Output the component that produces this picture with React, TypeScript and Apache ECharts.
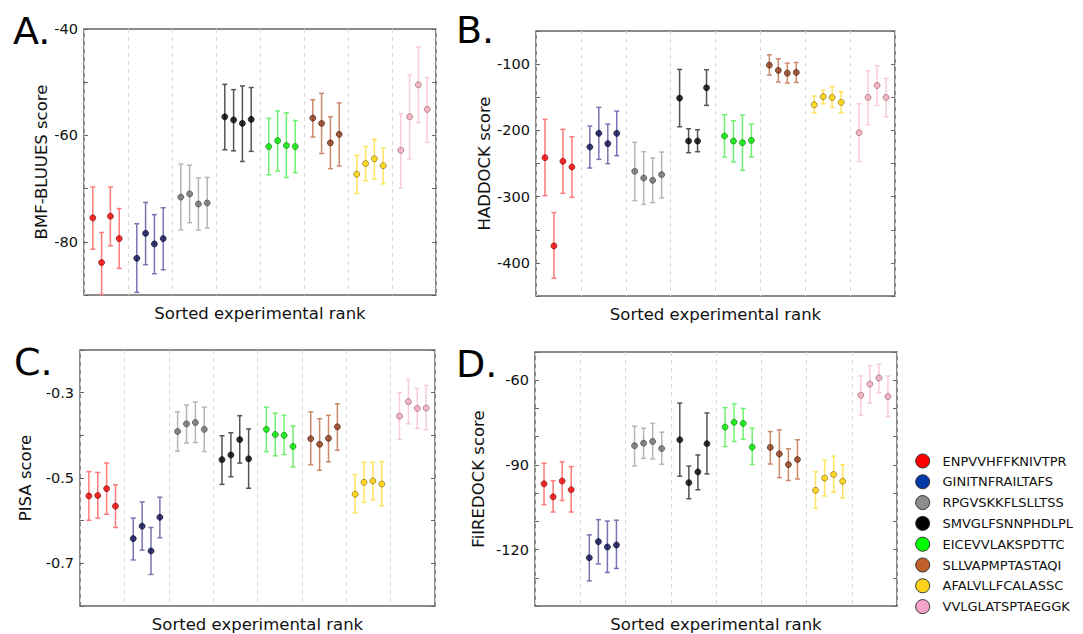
import React, { useEffect, useRef } from "react";
import * as echarts from "echarts";

const peptides = [
  "ENPVVHFFKNIVTPR",
  "GINITNFRAILTAFS",
  "RPGVSKKFLSLLTSS",
  "SMVGLFSNNPHDLPL",
  "EICEVVLAKSPDTTC",
  "SLLVAPMPTASTAQI",
  "AFALVLLFCALASSC",
  "VVLGLATSPTAEGGK",
];

const pointColors = ["#ee0000", "#0c0c50", "#6e6e6e", "#000000", "#00e600", "#8a3a18", "#ffd200", "#f2a8b8"];
const edgeColors = ["#7a0000", "#000022", "#3a3a3a", "#000000", "#007a00", "#4a1a08", "#7a6000", "#8a5a68"];
const errColors = ["#ff7a7a", "#7676b2", "#b6b6b6", "#555555", "#70f070", "#cc8a6c", "#ffe460", "#f9cdd6"];
const legendColors = ["#ff0000", "#0039a6", "#8c8c8c", "#000000", "#00ff00", "#c0602c", "#ffd21e", "#f5a3c9"];

// Panel A: BMF-BLUUES
const bmfMean = [
  [-75.5, -83.9, -75.2, -79.4],
  [-83.1, -78.4, -80.4, -79.4],
  [-71.6, -71.0, -72.9, -72.7],
  [-56.5, -57.1, -57.75, -57.0],
  [-62.1, -61.0, -61.9, -62.1],
  [-56.75, -57.75, -61.4, -59.8],
  [-67.3, -65.3, -64.4, -65.7],
  [-62.8, -56.5, -50.5, -55.1],
];
const bmfHigh = [
  [-69.7, -78.25, -69.7, -73.75],
  [-76.6, -72.6, -74.9, -73.6],
  [-65.4, -65.6, -68.0, -67.9],
  [-50.4, -51.4, -50.7, -51.0],
  [-56.8, -55.4, -55.75, -57.2],
  [-53.3, -52.1, -56.5, -53.9],
  [-63.75, -62.1, -60.75, -62.4],
  [-55.9, -48.6, -43.4, -49.1],
];
const bmfLow = [
  [-81.4, -89.9, -80.75, -85.0],
  [-89.5, -84.3, -86.0, -85.25],
  [-77.75, -76.4, -77.8, -77.4],
  [-62.7, -62.9, -64.9, -63.0],
  [-67.4, -66.7, -67.9, -67.0],
  [-60.3, -63.4, -66.25, -65.75],
  [-70.9, -68.5, -68.2, -69.1],
  [-69.9, -64.4, -57.6, -61.25],
];

// Panel B: HADDOCK
const hadMean = [
  [-241.2, -374.4, -246.7, -255.3],
  [-225.1, -204.5, -220.1, -204.5],
  [-261.8, -271.9, -275.4, -266.8],
  [-151.3, -216.1, -216.1, -135.7],
  [-208.5, -216.1, -218.6, -215.1],
  [-101.5, -109.5, -113.6, -112.6],
  [-161.3, -149.2, -150.3, -157.8],
  [-203.5, -150.3, -132.2, -150.3],
];
const hadHigh = [
  [-183.4, -324.1, -198.5, -209.5],
  [-193.5, -165.3, -190.5, -170.9],
  [-218.1, -232.2, -241.7, -232.7],
  [-108.0, -197.5, -199.0, -108.5],
  [-176.4, -185.4, -176.9, -190.5],
  [-85.9, -92.0, -98.5, -97.5],
  [-148.2, -139.7, -134.2, -141.7],
  [-159.8, -110.0, -102.5, -121.6],
];
const hadLow = [
  [-298.5, -423.1, -295.0, -301.0],
  [-256.8, -243.7, -250.3, -238.2],
  [-306.0, -311.6, -309.0, -302.0],
  [-194.5, -233.7, -232.2, -162.3],
  [-240.2, -247.7, -260.3, -240.2],
  [-116.6, -127.1, -128.6, -127.6],
  [-173.4, -159.8, -165.3, -173.4],
  [-247.2, -191.5, -162.3, -179.4],
];

// Panel C: PISA
const pisaMean = [
  [-0.542, -0.541, -0.525, -0.566],
  [-0.642, -0.613, -0.671, -0.592],
  [-0.391, -0.373, -0.37, -0.386],
  [-0.457, -0.446, -0.41, -0.455],
  [-0.386, -0.398, -0.4, -0.426],
  [-0.408, -0.421, -0.407, -0.38],
  [-0.538, -0.51, -0.507, -0.514],
  [-0.355, -0.321, -0.337, -0.336],
];
const pisaHigh = [
  [-0.485, -0.487, -0.465, -0.516],
  [-0.594, -0.556, -0.616, -0.545],
  [-0.345, -0.329, -0.322, -0.334],
  [-0.401, -0.394, -0.354, -0.385],
  [-0.334, -0.348, -0.353, -0.378],
  [-0.345, -0.361, -0.353, -0.326],
  [-0.492, -0.463, -0.463, -0.462],
  [-0.3, -0.269, -0.29, -0.283],
];
const pisaLow = [
  [-0.599, -0.594, -0.585, -0.616],
  [-0.692, -0.669, -0.726, -0.64],
  [-0.437, -0.418, -0.417, -0.438],
  [-0.515, -0.497, -0.465, -0.524],
  [-0.438, -0.448, -0.445, -0.474],
  [-0.469, -0.482, -0.462, -0.435],
  [-0.582, -0.557, -0.551, -0.565],
  [-0.41, -0.373, -0.384, -0.387],
];

// Panel D: FiREDOCK
const fireMean = [
  [-96.7, -101.3, -95.7, -98.8],
  [-122.9, -117.2, -119.1, -118.4],
  [-83.2, -82.3, -81.7, -84.2],
  [-81.1, -96.3, -92.5, -82.5],
  [-76.6, -74.9, -75.3, -83.7],
  [-83.8, -86.1, -89.9, -88.1],
  [-99.0, -94.7, -93.4, -95.8],
  [-65.3, -61.4, -59.2, -65.8],
];
const fireHigh = [
  [-89.4, -95.6, -88.9, -90.6],
  [-114.8, -109.4, -109.9, -109.6],
  [-76.3, -77.0, -75.3, -78.4],
  [-68.1, -90.4, -86.5, -71.6],
  [-69.7, -68.4, -70.0, -77.0],
  [-78.2, -77.6, -84.3, -81.1],
  [-92.4, -88.4, -86.9, -89.9],
  [-58.5, -54.9, -54.3, -58.5],
];
const fireLow = [
  [-104.1, -106.7, -102.6, -106.7],
  [-131.1, -125.1, -128.1, -126.7],
  [-90.4, -87.7, -87.9, -89.8],
  [-94.0, -102.0, -98.8, -93.2],
  [-83.5, -81.7, -80.9, -89.9],
  [-89.7, -94.5, -95.5, -95.0],
  [-105.4, -101.0, -99.7, -101.7],
  [-72.4, -68.1, -64.4, -72.9],
];

const xTitle = "Sorted experimental rank";
const yTitles = ["BMF-BLUUES score", "HADDOCK score", "PISA score", "FiIREDOCK score"];
const panelLetters = ["A.", "B.", "C.", "D."];
const yMins = [-90, -450, -0.8, -140];
const yMaxs = [-40, -50, -0.2, -50];
const yIntervals = [10, 50, 0.1, 10];
const yLabelSteps = [20, 100, 0.2, 30];

const FONT = "DejaVu Sans";

export default function App() {
  const ref = useRef<HTMLDivElement>(null);

  useEffect(() => {
    if (!ref.current) return;
    const chart = echarts.init(ref.current, undefined, { renderer: "svg" });

    const grids = [
      { left: 84, top: 29, width: 352, height: 266 },
      { left: 536, top: 31, width: 359, height: 265 },
      { left: 80, top: 350, width: 355, height: 259 },
      { left: 535, top: 352, width: 362, height: 255 },
    ];
    const yNameGaps = [34, 41, 46, 48];
    const letterPos = [
      [13, 31],
      [456, 30],
      [14, 362],
      [456, 364],
    ];
    const panels = [
      [bmfMean, bmfLow, bmfHigh],
      [hadMean, hadLow, hadHigh],
      [pisaMean, pisaLow, pisaHigh],
      [fireMean, fireLow, fireHigh],
    ];

    const labelFormatter = (p: number) => (v: number) => {
      if (p === 2) {
        const k = Math.round(v * 10);
        return Math.abs(k) % 2 === 1 ? (k / 10).toFixed(1) : "";
      }
      const step = yLabelSteps[p];
      const r = Math.round(v / step) * step;
      return Math.abs(r - v) < 1e-6 ? String(Math.round(v)) : "";
    };

    const xAxes: any[] = [];
    const yAxes: any[] = [];
    const series: any[] = [];

    panels.forEach((pd, p) => {
      xAxes.push({
        type: "value",
        gridIndex: p,
        min: 0,
        max: 40,
        interval: 5,
        axisLine: { show: false },
        axisTick: { show: false },
        axisLabel: { show: false },
        splitLine: { show: true, lineStyle: { color: "#d9d9d9", type: [4, 4], width: 1 } },
        name: xTitle,
        nameLocation: "middle",
        nameGap: 10,
        nameTextStyle: { fontFamily: FONT, fontSize: 16.5, color: "#111", verticalAlign: "top" },
      });
      const yBase = {
        type: "value",
        gridIndex: p,
        min: yMins[p],
        max: yMaxs[p],
        interval: yIntervals[p],
        splitLine: { show: false },
        axisLine: { show: false },
      };
      yAxes.push({
        ...yBase,
        position: "left",
        axisTick: { show: true, inside: true, length: 4, lineStyle: { color: "#666", width: 1 } },
        axisLabel: {
          show: true,
          margin: 6,
          fontFamily: FONT,
          fontSize: 14.5,
          color: "#111",
          showMinLabel: true,
          showMaxLabel: true,
          formatter: labelFormatter(p),
        },
        name: yTitles[p],
        nameLocation: "middle",
        nameGap: yNameGaps[p],
        nameTextStyle: { fontFamily: FONT, fontSize: 16.5, color: "#111" },
      });
      yAxes.push({
        ...yBase,
        position: "right",
        axisTick: { show: true, inside: true, length: 4, lineStyle: { color: "#666", width: 1 } },
        axisLabel: { show: false },
      });

      const [mean, low, high] = pd as number[][][];
      const errData: any[] = [];
      const ptData: any[] = [];
      mean.forEach((grp, g) => {
        grp.forEach((m, i) => {
          const x = g * 5 + i + 1;
          errData.push([x, low[g][i], high[g][i], g]);
          ptData.push({
            value: [x, m],
            itemStyle: { color: pointColors[g], borderColor: edgeColors[g], borderWidth: 0.8 },
          });
        });
      });

      series.push({
        type: "custom",
        xAxisIndex: p,
        yAxisIndex: 2 * p,
        clip: true,
        z: 2,
        encode: { x: 0, y: [1, 2] },
        data: errData,
        renderItem: (params: any, api: any) => {
          const x = api.value(0);
          const lo = api.value(1);
          const hi = api.value(2);
          const g = api.value(3);
          const a = api.coord([x, hi]);
          const b = api.coord([x, lo]);
          const w = 2.5;
          const style = { stroke: errColors[g], lineWidth: 1.5 };
          return {
            type: "group",
            children: [
              { type: "line", shape: { x1: a[0], y1: a[1], x2: b[0], y2: b[1] }, style },
              { type: "line", shape: { x1: a[0] - w, y1: a[1], x2: a[0] + w, y2: a[1] }, style },
              { type: "line", shape: { x1: b[0] - w, y1: b[1], x2: b[0] + w, y2: b[1] }, style },
            ],
          };
        },
      });
      series.push({
        type: "scatter",
        xAxisIndex: p,
        yAxisIndex: 2 * p,
        symbol: "circle",
        symbolSize: 6,
        z: 3,
        data: ptData,
      });
    });

    const graphics: any[] = [];
    panelLetters.forEach((t, p) => {
      graphics.push({
        type: "text",
        left: letterPos[p][0],
        top: letterPos[p][1] - 19,
        style: { text: t, fontFamily: FONT, fontSize: 38, fill: "#000" },
      });
    });
    peptides.forEach((name, i) => {
      const cy = 461 + 20.8 * i;
      graphics.push({
        type: "circle",
        shape: { cx: 922.7, cy, r: 7 },
        style: { fill: legendColors[i], stroke: "#333", lineWidth: 1 },
      });
      graphics.push({
        type: "text",
        x: 942.5,
        y: cy,
        style: {
          text: name,
          fontFamily: FONT,
          fontSize: 13,
          fill: "#111",
          verticalAlign: "middle",
          align: "left",
        },
      });
    });

    chart.setOption({
      animation: false,
      backgroundColor: "#ffffff",
      grid: grids.map((g) => ({
        ...g,
        show: true,
        borderColor: "#666",
        borderWidth: 1.5,
        backgroundColor: "transparent",
      })),
      xAxis: xAxes,
      yAxis: yAxes,
      series,
      graphic: graphics,
    });

    return () => chart.dispose();
  }, []);

  return (
    <div
      ref={ref}
      style={{ position: "fixed", left: 0, top: 0, width: 1083, height: 634, background: "#fff" }}
    />
  );
}
